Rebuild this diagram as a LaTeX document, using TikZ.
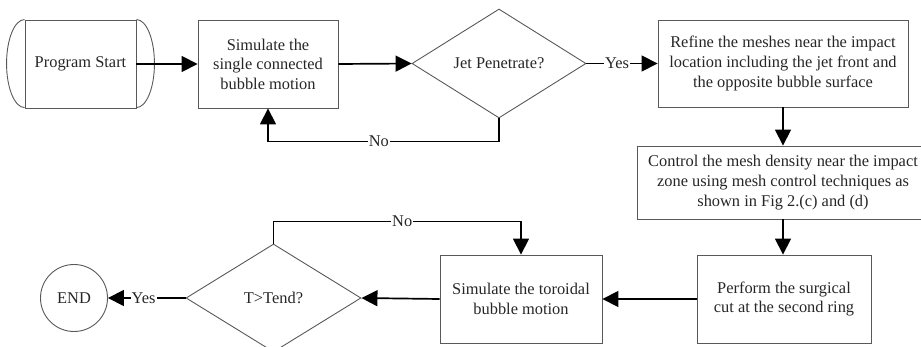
\documentclass[tikz,border=0pt]{standalone}
\usepackage{fontspec}
\setmainfont{Liberation Serif}
\usetikzlibrary{shapes.geometric,arrows.meta}
\begin{document}
\begin{tikzpicture}[x=1pt,y=-1pt,
  every node/.style={font=\fontsize{16.4}{19.6}\selectfont, text=black!85},
  boxnode/.style={draw=black!65, line width=0.9pt, rectangle, inner sep=0pt, align=center},
  decnode/.style={draw=black!65, line width=0.9pt, diamond, inner sep=0pt, aspect=1.6},
  conn/.style={draw=black, line width=1.7pt, -{Triangle[length=16pt,width=16pt]}},
  lbl/.style={fill=white, inner sep=1pt}
]
\useasboundingbox (0,0) rectangle (921,347);
\clip (0,0) rectangle (921,347);
\node[boxnode, minimum width=111pt, minimum height=88pt] (start) at (80.5,64) {Program Start};
\draw[black!65, line width=0.9pt] (start.north east) arc[start angle=90, end angle=-90, x radius=18pt, y radius=44pt];
\draw[black!65, line width=0.9pt] (start.north west) arc[start angle=90, end angle=270, x radius=18pt, y radius=44pt];
\node[boxnode, minimum width=140pt, minimum height=88pt] (sim1) at (268,64) {Simulate the\\single connected\\bubble motion};
\node[decnode, minimum width=174pt, minimum height=109pt] (jet) at (499,63.5) {Jet Penetrate?};
\node[boxnode, minimum width=250pt, minimum height=87pt] (refine) at (783,63.5) {Refine the meshes near the impact\\location including the jet front and\\the opposite bubble surface};
\node[boxnode, minimum width=292pt, minimum height=73pt] (control) at (783,182.5) {Control the mesh density near the impact\\zone using mesh control techniques as\\shown in Fig 2.(c) and (d)};
\node[boxnode, minimum width=174pt, minimum height=88pt] (perform) at (784,299) {Perform the surgical\\cut at the second ring};
\node[boxnode, minimum width=162pt, minimum height=88pt] (toro) at (521,299) {Simulate the toroidal\\bubble motion};
\node[decnode, minimum width=175pt, minimum height=108pt] (tend) at (273.5,298) {T>Tend?};
\node[draw=black!65, line width=0.9pt, circle, minimum size=67pt, inner sep=0pt] (end) at (74,298) {END};

\draw[conn] (start.east) -- (sim1.west);
\draw[conn] (sim1.east) -- (jet.west);
\draw[conn] (jet.east) -- node[lbl, pos=0.43]{Yes} (refine.west);
\draw[conn] (jet.south) -- ++(0,23) -| node[lbl, pos=0.26]{No} (sim1.south);
\draw[conn] (refine.south -| control.north) -- (control.north);
\draw[conn] (control.south) -- (control.south |- perform.north);
\draw[conn] (perform.west) -- (toro.east);
\draw[conn] (toro.west) -- (tend.east);
\draw[conn] (tend.north) -- ++(0,-22) -| node[lbl, pos=0.26]{No} (toro.north);
\draw[conn] (tend.west) -- node[lbl, pos=0.54]{Yes} (end.east);
\end{tikzpicture}
\end{document}
